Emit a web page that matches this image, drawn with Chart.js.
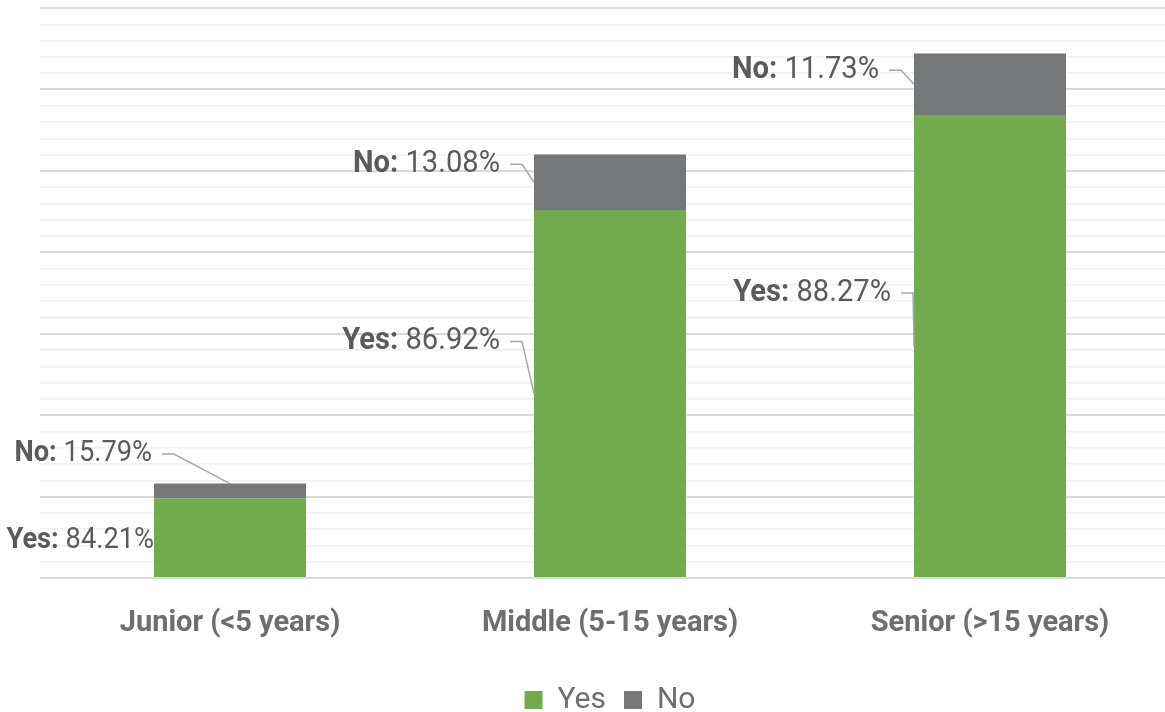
<!DOCTYPE html>
<html>
<head>
<meta charset="utf-8">
<title>Seniority</title>
<script src="https://cdn.jsdelivr.net/npm/chart.js@4.4.1/dist/chart.umd.min.js"></script>
<style>
  html, body { margin: 0; padding: 0; background: #fff; overflow: hidden; }
  #wrap { width: 1185px; height: 725px; }
</style>
</head>
<body>
<div id="wrap"><canvas id="seniority-chart"></canvas></div>
<script>
const categories = ["Junior (<5 years)", "Middle (5-15 years)", "Senior (>15 years)"];
const totals = [29, 130, 161];
const yesPct = [84.21, 86.92, 88.27];
const noPct = [15.79, 13.08, 11.73];

const yesValues = totals.map((t, i) => (t * yesPct[i]) / 100);
const noValues = totals.map((t, i) => (t * noPct[i]) / 100);

const FONT = "Roboto, 'Liberation Sans', sans-serif";
const GREEN = "#72AA4F";
const GREY = "#75787B";

// where each callout sits, relative to the bar's left edge and the segment middle
const calloutPos = {
  Yes: [
    { dx: 0, dy: 3, size: 29, leader: null },
    { dx: -34, dy: -52, size: 31, leader: "edge" },
    { dx: -23, dy: -53, size: 31, leader: "edge" },
  ],
  No: [
    { dx: -2, dy: -37, size: 29, leader: "top" },
    { dx: -34, dy: -18, size: 31, leader: "edge" },
    { dx: -35, dy: -14, size: 31, leader: "edge" },
  ],
};

const calloutPlugin = {
  id: "callouts",
  afterDatasetsDraw(chart) {
    const ctx = chart.ctx;
    chart.data.datasets.forEach((ds, di) => {
      const meta = chart.getDatasetMeta(di);
      const pcts = di === 0 ? yesPct : noPct;
      meta.data.forEach((bar, i) => {
        const p = calloutPos[ds.label][i];
        const left = bar.x - bar.width / 2;
        const mid = (bar.y + bar.base) / 2;
        const rx = left + p.dx;
        const ty = mid + p.dy;
        const valueText = " " + pcts[i].toFixed(2) + "%";

        // narrow lettering: squeeze the text horizontally
        ctx.save();
        ctx.translate(rx, ty);
        ctx.scale(0.94, 1);
        ctx.textBaseline = "middle";
        ctx.textAlign = "right";
        ctx.fillStyle = "#5b5b5b";
        ctx.font = p.size + "px " + FONT;
        const vw = ctx.measureText(valueText).width;
        ctx.fillText(valueText, 0, 0);
        ctx.font = "bold " + p.size + "px " + FONT;
        ctx.fillText(ds.label + ":", -vw, 0);
        ctx.restore();

        if (p.leader) {
          const sx = rx + 10;
          const kx = sx + 12;
          let tx = left;
          let tyEnd = mid;
          if (p.leader === "top") {
            tx = bar.x;
            tyEnd = bar.y;
          }
          ctx.save();
          ctx.strokeStyle = "#a8a8a8";
          ctx.lineWidth = 1.5;
          ctx.beginPath();
          ctx.moveTo(sx, ty);
          ctx.lineTo(kx, ty);
          ctx.lineTo(tx, tyEnd);
          ctx.stroke();
          ctx.restore();
        }
      });
    });
  },
};

const ctx = document.getElementById("seniority-chart").getContext("2d");
const myChart = new Chart(ctx, {
  type: "bar",
  data: {
    labels: categories,
    datasets: [
      {
        label: "Yes",
        data: yesValues,
        backgroundColor: GREEN,
        borderWidth: 0,
      },
      {
        label: "No",
        data: noValues,
        backgroundColor: GREY,
        borderWidth: 0,
      },
    ],
  },
  options: {
    responsive: true,
    maintainAspectRatio: false,
    animation: false,
    categoryPercentage: 0.8,
    barPercentage: 0.5,
    layout: {
      padding: { top: 8, left: 40, right: 5, bottom: 0 },
    },
    plugins: {
      tooltip: { enabled: false },
      legend: {
        position: "bottom",
        labels: {
          boxWidth: 18,
          boxHeight: 18,
          padding: 18,
          color: "#6e6e6e",
          font: { family: FONT, size: 30 },
        },
      },
    },
    scales: {
      x: {
        stacked: true,
        grid: { display: false, drawTicks: false },
        border: { display: false },
        ticks: {
          padding: 28,
          color: "#6e6e6e",
          font: { family: FONT, size: 29, weight: "bold" },
        },
        afterFit: (scale) => {
          scale.height = 89;
        },
      },
      y: {
        stacked: true,
        min: 0,
        max: 175,
        grid: {
          drawTicks: false,
          color: (c) => (c.tick.value % 25 === 0 ? "#dadada" : "#f0f0f0"),
          lineWidth: (c) => (c.tick.value % 25 === 0 ? 2 : 1.5),
        },
        border: { display: false },
        ticks: { display: false, stepSize: 5 },
        afterFit: (scale) => {
          scale.width = 0;
        },
      },
    },
  },
  plugins: [calloutPlugin],
});
</script>
</body>
</html>
